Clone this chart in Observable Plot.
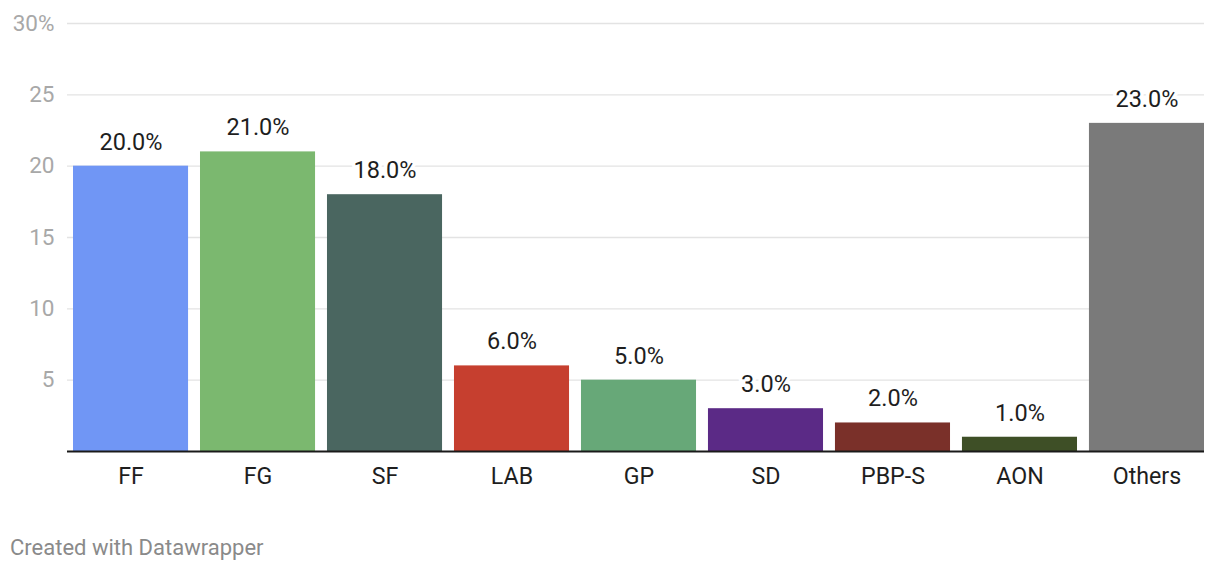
<!DOCTYPE html>
<html><head><meta charset="utf-8">
<script src="https://cdn.jsdelivr.net/npm/d3@7"></script>
<script src="https://cdn.jsdelivr.net/npm/@observablehq/plot@0.6"></script>
<style>
body{margin:0;background:#fff;font-family:Roboto,sans-serif;}
#footer{position:absolute;left:10px;top:534px;font-size:22px;line-height:28px;color:#8a8a8a;font-family:Roboto,sans-serif;}
</style></head>
<body>
<div id="chart"></div>
<div id="footer">Created with Datawrapper</div>
<script>
const categories = ["FF","FG","SF","LAB","GP","SD","PBP-S","AON","Others"];
const values = [20,21,18,6,5,3,2,1,23];
const colors = ["#7096f5","#7bb86f","#4a6660","#c63f2f","#67a878","#5b2a86","#7a3029","#3e4f26","#7a7a7a"];
const yTicks = [5,10,15,20,25,30];

const data = categories.map((c,i)=>({cat:c, value:values[i], color:colors[i]}));

const chart = Plot.plot({
  width: 1220,
  height: 500,
  marginTop: 23,
  marginBottom: 49,
  marginLeft: 67,
  marginRight: 16,
  style: {fontFamily: "Roboto, sans-serif", background: "#fff"},
  x: {domain: categories, paddingInner: 0.094, paddingOuter: 0, insetLeft: 6, round: false, label: null},
  y: {domain: [0,30], label: null},
  color: {type: "identity"},
  marks: [
    Plot.gridY(yTicks, {stroke: "#e3e3e3", strokeOpacity: 1, strokeWidth: 1.3}),
    Plot.barY(data, {x: "cat", y: "value", fill: "color"}),
    Plot.ruleY([0], {stroke: "#1a1a1a", strokeWidth: 2}),
    Plot.text(data, {x: "cat", y: "value", text: d => d.value.toFixed(1) + "%", dy: -24, fontSize: 23.5, fill: "#1e1e1e", stroke: "white", strokeWidth: 7}),
    Plot.axisY(yTicks, {tickSize: 0, tickPadding: 13, fontSize: 22.5, fill: "#a8a8a8", tickFormat: d => d === 30 ? "30%" : String(d)}),
    Plot.axisX({tickSize: 0, tickPadding: 16, fontSize: 23.2, fill: "#1e1e1e"})
  ]
});
document.getElementById("chart").appendChild(chart);
</script>
</body></html>
